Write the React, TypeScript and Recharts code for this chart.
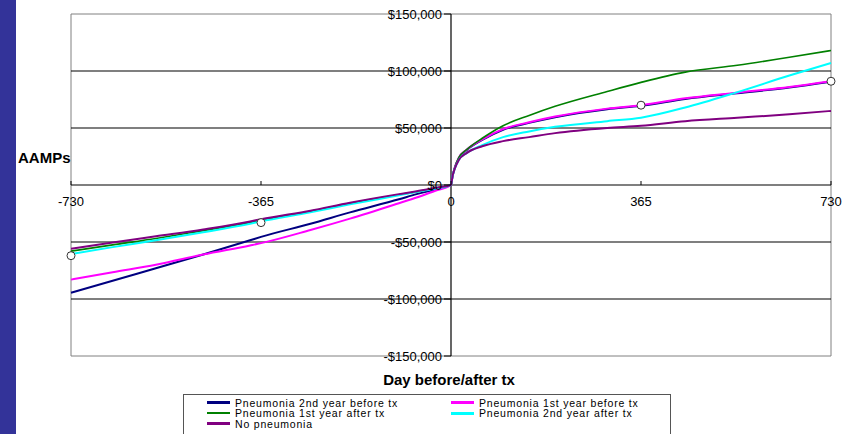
import React from 'react';
import { LineChart, Line, XAxis, YAxis, ReferenceLine, ReferenceArea, ReferenceDot } from 'recharts';

// day relative to transplant
const days = [-730, -650, -567, -476, -386, -365, -270, -194, -100, -66, -30, 0, 3, 7, 15, 30, 60, 100, 150, 200, 300, 365, 450, 550, 650, 730];

// AAMPs in $ thousands
const pneu2ndBefore = [-94.5, -84, -73, -61, -48.5, -45.5, -34, -24, -12.5, -8, -4, 0, 7.5, 14.5, 23.5, 30.5, 39.5, 48.5, 54.5, 59.5, 66.5, 69.5, 75.5, 80.5, 85.5, 90.5];
const pneu1stBefore = [-83, -76.5, -70, -61, -53, -51, -39.5, -29.5, -16, -11, -5, 0, 8, 15, 24, 31, 40, 49, 55, 60, 67, 70, 76, 81, 86, 91];
const pneu1stAfter = [-58, -52.5, -47, -40, -33, -31, -23, -16, -8.5, -6, -2.7, 0, 8, 15, 24, 31, 41, 52, 61, 69, 82, 90, 99, 105, 112, 118];
const pneu2ndAfter = [-60.5, -54.5, -48.5, -41.5, -34, -32, -24, -17, -9, -6, -3, 0, 8, 14, 22, 28, 35, 42, 47, 51, 56, 59, 68, 81.5, 96, 107];
const noPneumonia = [-56, -50.5, -45, -39, -32, -30, -22.5, -15.5, -8, -5.5, -2.5, 0, 8, 14, 22, 28, 34, 38.5, 42, 45.5, 50, 52, 56, 59, 62, 65];

// open circle markers
const markerDays = [-730, -365, 365, 730];
const markerValues = [-62, -33, 70, 91];

const xTicks = [-730, -365, 0, 365, 730];
const yTicks = [150, 100, 50, 0, -50, -100, -150];
const yTickLabels = ['$150,000', '$100,000', '$50,000', '$0', '-$50,000', '-$100,000', '-$150,000'];
const gridValues = [100, 50, 0, -50, -100];

const series = [
  { key: 'p2b', name: 'Pneumonia 2nd year before tx', color: '#000080', width: 2, values: pneu2ndBefore },
  { key: 'p1b', name: 'Pneumonia 1st year before tx', color: '#ff00ff', width: 2, values: pneu1stBefore },
  { key: 'p1a', name: 'Pneumonia 1st year after tx', color: '#008000', width: 1.6, values: pneu1stAfter },
  { key: 'p2a', name: 'Pneumonia 2nd year after tx', color: '#00ffff', width: 2, values: pneu2ndAfter },
  { key: 'none', name: 'No pneumonia', color: '#800080', width: 2, values: noPneumonia },
];

const rows = days.map((d, i) => {
  const row: Record<string, number | undefined> = { day: d };
  series.forEach((s) => (row[s.key] = s.values[i]));
  const m = markerDays.indexOf(d);
  row.marker = m >= 0 ? markerValues[m] : undefined;
  return row;
});

const font = 'Arial, "Liberation Sans", sans-serif';

const yTickMark = (p: any) => <line x1={p.cx - 7} x2={p.cx} y1={p.cy} y2={p.cy} stroke="#000" strokeWidth={1} />;
const xTickMark = (p: any) => <line x1={p.cx} x2={p.cx} y1={p.cy - 4} y2={p.cy} stroke="#000" strokeWidth={1} />;

// legend layout: two columns
const legendPos = [
  { left: 23, top: 2.5 },
  { left: 267, top: 2.5 },
  { left: 23, top: 13 },
  { left: 267, top: 13 },
  { left: 23, top: 23.5 },
];

export default function App() {
  return (
    <div style={{ position: 'absolute', left: 0, top: 0, width: 850, height: 434, background: '#fff', overflow: 'hidden', fontFamily: font }}>
      <div style={{ position: 'absolute', left: 0, top: 0, width: 16, height: 434, background: '#333399' }} />
      <LineChart width={850} height={434} data={rows} margin={{ top: 14, right: 19, bottom: 78, left: 71 }}>
        <XAxis dataKey="day" type="number" domain={[-730, 730]} ticks={xTicks} hide />
        <YAxis type="number" domain={[-150, 150]} ticks={yTicks} hide />
        <ReferenceArea x1={-730} x2={730} y1={-150} y2={150} fill="none" stroke="#808080" strokeWidth={1} />
        {gridValues.map((v) => (
          <ReferenceLine key={'g' + v} y={v} stroke="#000" strokeWidth={1.2} />
        ))}
        <ReferenceLine x={0} stroke="#000" strokeWidth={1.2} />
        {yTicks.map((v, i) => (
          <ReferenceDot
            key={'yl' + v}
            x={0}
            y={v}
            r={0}
            shape={yTickMark}
            label={{ value: yTickLabels[i], position: 'left', offset: 9, fill: '#000', fontSize: 13, fontFamily: font }}
          />
        ))}
        {xTicks.map((t) => (
          <ReferenceDot
            key={'xl' + t}
            x={t}
            y={0}
            r={0}
            shape={xTickMark}
            label={{ value: String(t), position: 'bottom', offset: 12, fill: '#000', fontSize: 13, fontFamily: font }}
          />
        ))}
        {series.map((s) => (
          <Line
            key={s.key}
            dataKey={s.key}
            type="monotone"
            stroke={s.color}
            strokeWidth={s.width}
            dot={false}
            activeDot={false}
            isAnimationActive={false}
          />
        ))}
        <Line
          dataKey="marker"
          stroke="none"
          dot={{ r: 4, fill: '#fff', stroke: '#333', strokeWidth: 1 }}
          activeDot={false}
          isAnimationActive={false}
        />
      </LineChart>
      <div style={{ position: 'absolute', left: 18, top: 149, fontSize: 15, fontWeight: 'bold' }}>AAMPs</div>
      <div style={{ position: 'absolute', left: 349, width: 200, textAlign: 'center', top: 371, fontSize: 15, fontWeight: 'bold' }}>
        Day before/after tx
      </div>
      <div style={{ position: 'absolute', left: 183, top: 394, width: 486, height: 60, border: '1px solid #555', background: '#fff' }}>
        {series.map((s, i) => (
          <div key={s.key} style={{ position: 'absolute', left: legendPos[i].left, top: legendPos[i].top, height: 10, display: 'flex', alignItems: 'center', whiteSpace: 'nowrap' }}>
            <div style={{ width: 23, height: s.width > 1.8 ? 3 : 2, background: s.color, marginRight: 5 }} />
            <span style={{ fontSize: 10.5, lineHeight: '10px', letterSpacing: 0.8, color: '#000' }}>{s.name}</span>
          </div>
        ))}
      </div>
    </div>
  );
}
